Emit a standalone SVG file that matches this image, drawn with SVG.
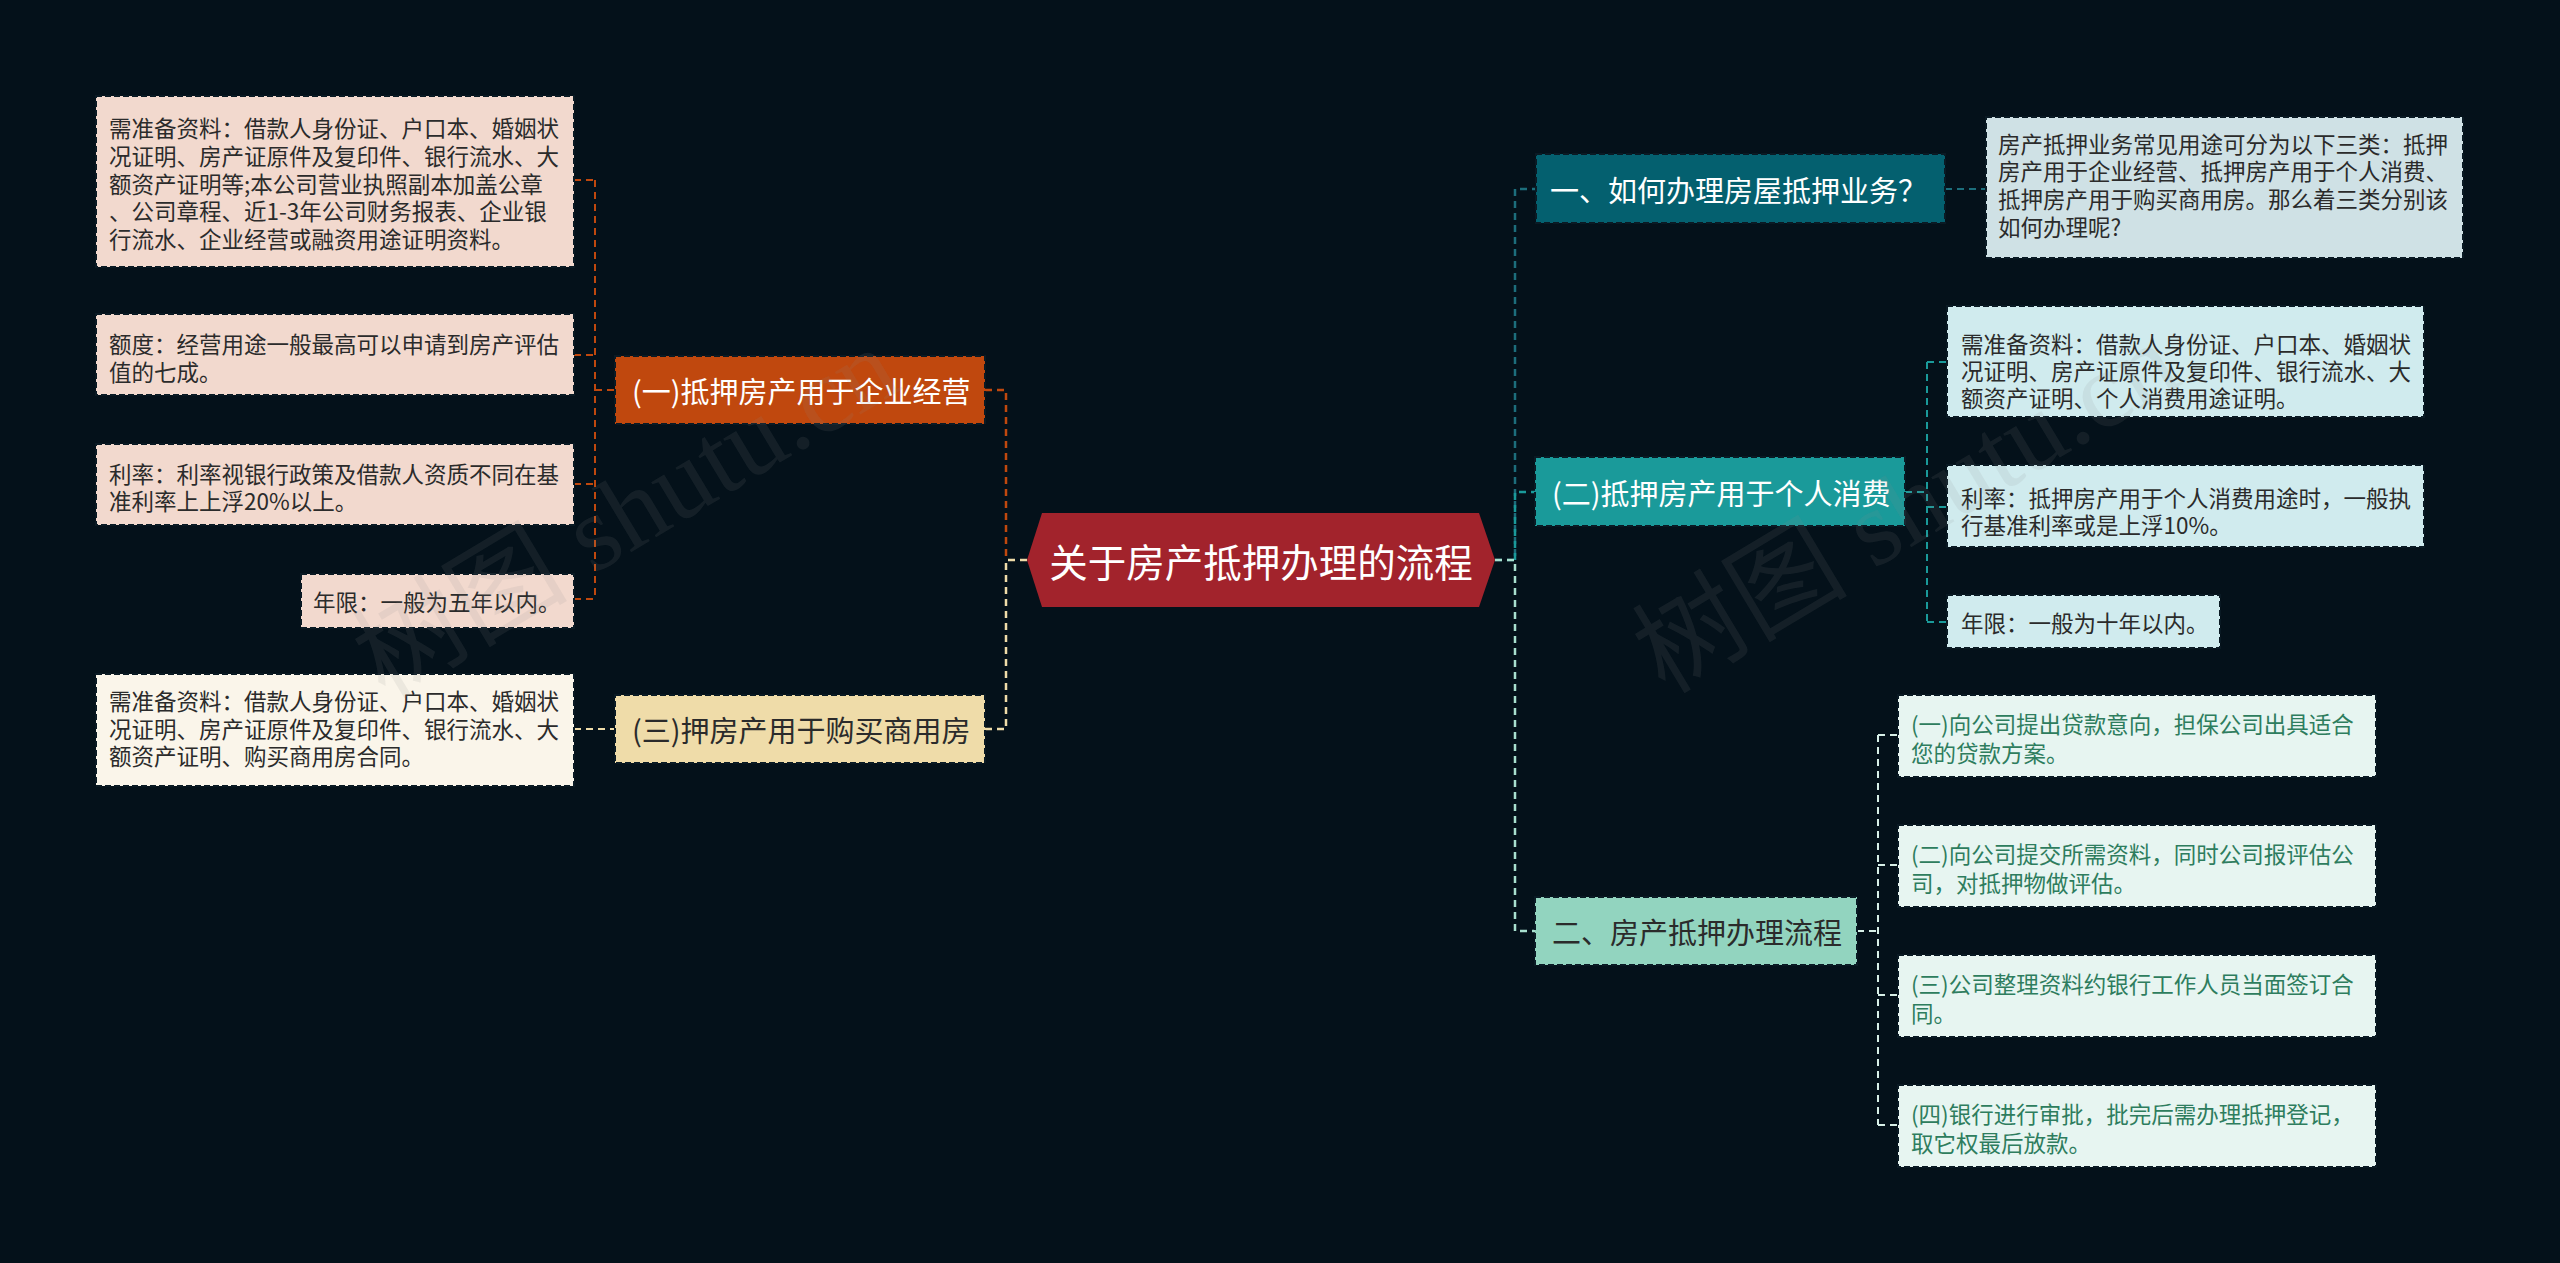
<svg xmlns="http://www.w3.org/2000/svg" width="2560" height="1263" viewBox="0 0 2560 1263">
<style>
text{font-family:"Noto Sans CJK SC","Microsoft YaHei",sans-serif;dominant-baseline:central}
.box{stroke:#0A1A24;stroke-width:2;stroke-dasharray:6 3}
.t22{font-size:22.5px;fill:#2b2b2b}
.tg{font-size:22.5px;fill:#2E7D5E}
.tb{font-size:29px}
.w{fill:#ffffff}
.d{fill:#2b2b2b}
.c{fill:none;stroke-width:2.5;stroke-dasharray:7 5}
.c2{fill:none;stroke-width:2;stroke-dasharray:7 5}
.wm{font-family:"Liberation Serif","Noto Sans CJK SC",serif;font-size:108px;fill:#8a8a8a;fill-opacity:0.12;dominant-baseline:alphabetic}
</style>
<rect width="2560" height="1263" fill="#04111A"/>

<g id="connectors">
  <!-- left: (一) group -->
  <path class="c2" stroke="#C0480E" d="M574 180H595M574 355H595M574 484H595M574 599H595M595 180V599M595 390H615"/>
  <path class="c" stroke="#C0480E" d="M985 390H1006V560"/>
  <!-- left: (三) group -->
  <path class="c2" stroke="#EFDCA9" d="M574 729H615"/>
  <path class="c" stroke="#EFDCA9" d="M985 729H1006V560H1027"/>
  <!-- right: 一 group -->
  <path class="c" stroke="#1C6E7C" d="M1495 560H1515V189H1536"/>
  <path class="c2" stroke="#1C6E7C" d="M1945 189H1986"/>
  <!-- right: (二) group -->
  <path class="c" stroke="#1A9A9A" d="M1515 560V492H1535"/>
  <path class="c2" stroke="#1A9A9A" d="M1905 492H1927M1927 362V622M1927 362H1947M1927 507H1947M1927 622H1947"/>
  <!-- right: 二、 group -->
  <path class="c" stroke="#A8E0CF" d="M1495 560H1515V931H1535"/>
  <path class="c2" stroke="#D8F0E8" d="M1857 931H1878M1878 735V1125M1878 735H1898M1878 865H1898M1878 995H1898M1878 1125H1898"/>
</g>

<g id="center">
  <polygon points="1027,560 1042,513 1479,513 1495,560 1479,607 1042,607" fill="#A2232C"/>
  <text x="1261" y="560" font-size="38.5" text-anchor="middle" class="w">关于房产抵押办理的流程</text>
</g>

<g id="b1">
  <rect class="box" x="615" y="356" width="370" height="68" fill="#C0480E"/>
  <text class="tb w" x="632" y="390">(一)抵押房产用于企业经营</text>
</g>
<g id="b1c1">
  <rect class="box" x="96" y="96" width="478" height="171" fill="#F2D9CE"/>
  <text class="t22" x="109" y="127">需准备资料：借款人身份证、户口本、婚姻状</text>
  <text class="t22" x="109" y="155">况证明、房产证原件及复印件、银行流水、大</text>
  <text class="t22" x="109" y="182.5">额资产证明等;本公司营业执照副本加盖公章</text>
  <text class="t22" x="109" y="210">、公司章程、近1-3年公司财务报表、企业银</text>
  <text class="t22" x="109" y="238">行流水、企业经营或融资用途证明资料。</text>
</g>
<g id="b1c2">
  <rect class="box" x="96" y="314" width="478" height="81" fill="#F2D9CE"/>
  <text class="t22" x="109" y="343">额度：经营用途一般最高可以申请到房产评估</text>
  <text class="t22" x="109" y="371">值的七成。</text>
</g>
<g id="b1c3">
  <rect class="box" x="96" y="444" width="478" height="81" fill="#F2D9CE"/>
  <text class="t22" x="109" y="473">利率：利率视银行政策及借款人资质不同在基</text>
  <text class="t22" x="109" y="500">准利率上上浮20%以上。</text>
</g>
<g id="b1c4">
  <rect class="box" x="301" y="574" width="273" height="54" fill="#F2D9CE"/>
  <text class="t22" x="313" y="601">年限：一般为五年以内。</text>
</g>

<g id="b3">
  <rect class="box" x="615" y="695" width="370" height="68" fill="#EFDCA9"/>
  <text class="tb d" x="632" y="729">(三)押房产用于购买商用房</text>
</g>
<g id="b3c1">
  <rect class="box" x="96" y="674" width="478" height="112" fill="#FAF5EA"/>
  <text class="t22" x="109" y="700">需准备资料：借款人身份证、户口本、婚姻状</text>
  <text class="t22" x="109" y="727.5">况证明、房产证原件及复印件、银行流水、大</text>
  <text class="t22" x="109" y="755">额资产证明、购买商用房合同。</text>
</g>

<g id="r1">
  <rect class="box" x="1536" y="154" width="409" height="69" fill="#04606F"/>
  <text class="tb w" x="1550" y="189">一、如何办理房屋抵押业务？</text>
</g>
<g id="r1c1">
  <rect class="box" x="1986" y="117" width="477" height="141" fill="#CFE1E5"/>
  <text class="t22" x="1998" y="143">房产抵押业务常见用途可分为以下三类：抵押</text>
  <text class="t22" x="1998" y="170">房产用于企业经营、抵押房产用于个人消费、</text>
  <text class="t22" x="1998" y="198">抵押房产用于购买商用房。那么着三类分别该</text>
  <text class="t22" x="1998" y="226">如何办理呢?</text>
</g>

<g id="b2">
  <rect class="box" x="1535" y="457" width="370" height="69" fill="#1A9A9A"/>
  <text class="tb w" x="1552" y="492">(二)抵押房产用于个人消费</text>
</g>
<g id="b2c1">
  <rect class="box" x="1947" y="306" width="477" height="111" fill="#D0EBEE"/>
  <text class="t22" x="1961" y="343">需准备资料：借款人身份证、户口本、婚姻状</text>
  <text class="t22" x="1961" y="370">况证明、房产证原件及复印件、银行流水、大</text>
  <text class="t22" x="1961" y="397">额资产证明、个人消费用途证明。</text>
</g>
<g id="b2c2">
  <rect class="box" x="1947" y="465" width="477" height="82" fill="#D0EBEE"/>
  <text class="t22" x="1961" y="497">利率：抵押房产用于个人消费用途时，一般执</text>
  <text class="t22" x="1961" y="524">行基准利率或是上浮10%。</text>
</g>
<g id="b2c3">
  <rect class="box" x="1947" y="595" width="273" height="53" fill="#D0EBEE"/>
  <text class="t22" x="1961" y="622">年限：一般为十年以内。</text>
</g>

<g id="r2">
  <rect class="box" x="1535" y="897" width="322" height="68" fill="#92D4BF"/>
  <text class="tb d" x="1552" y="931">二、房产抵押办理流程</text>
</g>
<g id="r2c1">
  <rect class="box" x="1898" y="695" width="478" height="82" fill="#E7F5F1"/>
  <text class="tg" x="1911" y="723">(一)向公司提出贷款意向，担保公司出具适合</text>
  <text class="tg" x="1911" y="752">您的贷款方案。</text>
</g>
<g id="r2c2">
  <rect class="box" x="1898" y="825" width="478" height="82" fill="#E7F5F1"/>
  <text class="tg" x="1911" y="853">(二)向公司提交所需资料，同时公司报评估公</text>
  <text class="tg" x="1911" y="882">司，对抵押物做评估。</text>
</g>
<g id="r2c3">
  <rect class="box" x="1898" y="955" width="478" height="82" fill="#E7F5F1"/>
  <text class="tg" x="1911" y="983">(三)公司整理资料约银行工作人员当面签订合</text>
  <text class="tg" x="1911" y="1012">同。</text>
</g>
<g id="r2c4">
  <rect class="box" x="1898" y="1085" width="478" height="82" fill="#E7F5F1"/>
  <text class="tg" x="1911" y="1113">(四)银行进行审批，批完后需办理抵押登记，</text>
  <text class="tg" x="1911" y="1142">取它权最后放款。</text>
</g>

<g id="watermark">
  <text class="wm" transform="translate(385,700) rotate(-31)">树图 shutu.cn</text>
  <text class="wm" transform="translate(1665,695) rotate(-31)">树图 shutu.cn</text>
</g>
</svg>
